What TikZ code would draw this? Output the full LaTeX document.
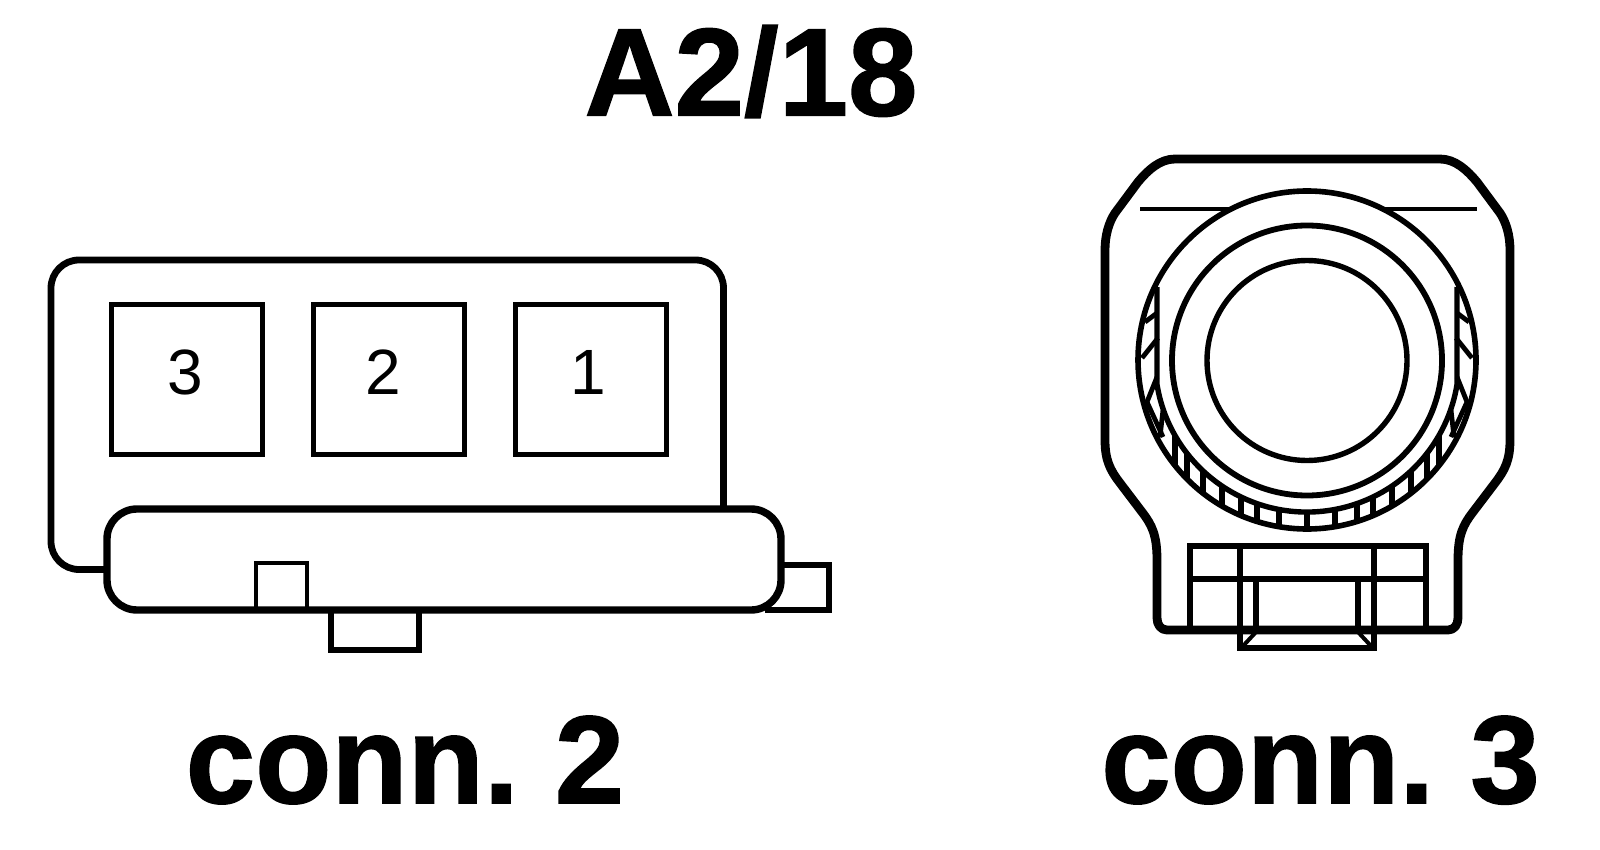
\documentclass[tikz,border=0pt]{standalone}
\usepackage{fontspec}
\setmainfont{Liberation Sans}
\newfontface\bigf{Liberation Sans Bold}[FakeBold=1.2]
\begin{document}
\begin{tikzpicture}[x=0.5pt,y=-0.5pt,line join=miter,
  biglabel/.style={font=\fontsize{62.4}{62}\selectfont\bigf,inner sep=0pt,anchor=base,text=black},
  pinlabel/.style={font=\fontsize{32}{32}\selectfont,inner sep=0pt,anchor=center,text=black},
  pinbox/.style={draw=black,line width=2.5pt,fill=white,inner sep=0pt,minimum width=75.5pt,minimum height=75pt},
  heavy/.style={draw=black,line width=3.7pt},
  medium/.style={draw=black,line width=2.8pt},
  thinl/.style={draw=black,line width=2.4pt},
  heavyc3/.style={draw=black,line width=4.4pt,line join=round}]
\useasboundingbox (0,0) rectangle (1600,850);
% titles
\node[biglabel] (title) at (751,115.5) {A2/18};
\node[biglabel] (c2) at (405,803) {conn.\hspace{-5pt} 2};
\node[biglabel] (c3) at (1320.5,803) {conn.\hspace{-5pt} 3};
% --- connector 2 ---
\draw[heavy,line width=3.4pt,rounded corners=14pt] (107,569.5) -- (51,569.5) -- (51,260) -- (723.5,260) -- (723.5,515);
\node[pinbox] (p3) at (186.5,379) {};
\node[pinbox] (p2) at (388.5,379) {};
\node[pinbox] (p1) at (590.5,379) {};
\node[pinlabel] (l3) at (185,372) {3};
\node[pinlabel] (l2) at (383,372) {2};
\node[pinlabel] (l1) at (588,372) {1};
% right and lower tabs
\draw[medium,line width=3pt] (781,565) -- (829,565) -- (829,610) -- (765,610);
\draw[heavy,line width=3.4pt] (331,610) -- (331,650) -- (419,650) -- (419,610);
% lower bar
\draw[heavy,fill=white,rounded corners=15pt] (107,509) rectangle (781,610);
\draw[thinl,line width=2pt] (256,610) -- (256,563) -- (307,563) -- (307,610);
% --- connector 3 ---
\draw[heavyc3] (1175,159) -- (1440,159)
  .. controls (1455,159) and (1467,170) .. (1477,182) -- (1500,213)
  .. controls (1506,222) and (1510,235) .. (1510,250) -- (1510,440)
  .. controls (1510,460) and (1505,470) .. (1495,483) -- (1473,512)
  .. controls (1463,525) and (1458,535) .. (1458,560) -- (1458,618)
  .. controls (1458,625) and (1454,630) .. (1448,630) -- (1167,630)
  .. controls (1161,630) and (1157,625) .. (1157,618) -- (1157,560)
  .. controls (1157,535) and (1152,525) .. (1142,512) -- (1120,483)
  .. controls (1110,470) and (1105,460) .. (1105,440) -- (1105,250)
  .. controls (1105,235) and (1109,222) .. (1115,213) -- (1138,182)
  .. controls (1148,170) and (1160,159) .. (1175,159) -- cycle;
\draw[thinl] (1140,209) -- (1477,209);
\path[draw=black,line width=2.8pt,fill=white] (1307,360) circle[radius=84.5pt];
% knurled ring
\draw[thinl,line width=2.7pt] (1157,287) -- (1157,384.6) arc[start angle=189.3,end angle=350.7,radius=76pt] -- (1457,287);
\foreach \dx in {0,28,50,66,85,104,120,132}{
  \pgfmathsetmacro{\ya}{360+10*sqrt(15.2*15.2-(\dx/10)*(\dx/10))}
  \pgfmathsetmacro{\yb}{360+10*sqrt(16.9*16.9-(\dx/10)*(\dx/10))}
  \draw[thinl,line width=2.8pt] (1307-\dx,\ya) -- (1307-\dx,\yb);
  \draw[thinl,line width=2.8pt] (1307+\dx,\ya) -- (1307+\dx,\yb);
}
\foreach \s in {-1,1}{
  \draw[thinl] (1307+\s*150,313) -- (1307+\s*162,322);
  \draw[thinl] (1307+\s*149,338) -- (1307+\s*165,358);
  \draw[thinl] (1307+\s*150,377) -- (1307+\s*160,402) -- (1307+\s*144,437);
  \draw[thinl] (1307+\s*144,410) -- (1307+\s*147,437);
}
\draw[draw=black,line width=2.9pt] (1307,360.5) circle[radius=67.5pt];
\draw[draw=black,line width=2.7pt] (1307,360.5) circle[radius=50pt];
% latch
\draw[medium] (1190,630) -- (1190,546) -- (1426,546) -- (1426,630);
\draw[medium] (1190,579) -- (1426,579);
\draw[medium] (1256,579) -- (1256,630);
\draw[medium] (1358,579) -- (1358,630);
\draw[medium,line width=3pt] (1240,546) -- (1240,648) -- (1374,648) -- (1374,546);
\draw[thinl,line width=2pt] (1256,632) -- (1243,646);
\draw[thinl,line width=2pt] (1358,632) -- (1371,646);
\end{tikzpicture}
\end{document}
